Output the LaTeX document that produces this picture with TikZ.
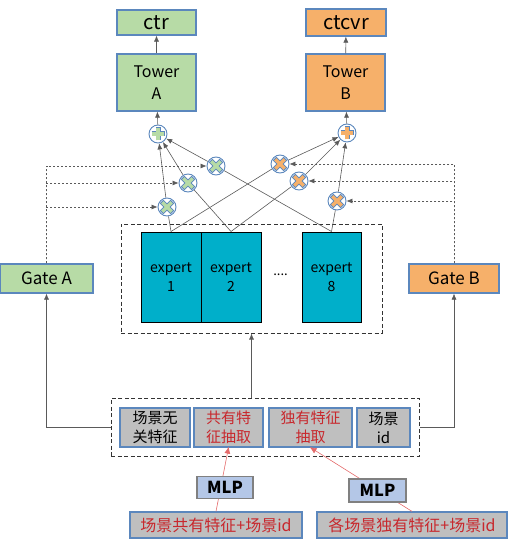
\documentclass[tikz,border=0pt]{standalone}
\usepackage{fontspec}
\setmainfont{Noto Sans CJK SC}
\usetikzlibrary{arrows.meta}

\definecolor{bordblue}{HTML}{5B87BD}
\definecolor{greenA}{HTML}{B7DBA6}
\definecolor{orangeB}{HTML}{F6B06A}
\definecolor{expcol}{HTML}{00AFCA}
\definecolor{featgray}{HTML}{BFBFBF}
\definecolor{mlpblue}{HTML}{B4C7E7}
\definecolor{featred}{HTML}{C8282D}
\definecolor{linered}{HTML}{E46A6A}
\definecolor{linegray}{HTML}{5A5A5A}

\tikzset{
  box/.style={draw=bordblue, line width=1.2pt, inner sep=0pt, align=center},
  expbox/.style={draw=black, line width=1pt, fill=expcol, inner sep=0pt, align=center,
    minimum width=60pt, minimum height=90pt, font=\fontsize{14}{19}\selectfont},
  feat/.style={box, fill=featgray, minimum height=39pt, font=\fontsize{15}{19}\selectfont},
  mlpbox/.style={draw=gray, line width=1.2pt, fill=mlpblue, inner sep=0pt,
    minimum width=56pt, minimum height=22pt, font=\fontsize{16.5}{18}\selectfont\bfseries},
  dbox/.style={draw=black!80, line width=1pt, dash pattern=on 4pt off 2.5pt, inner sep=0pt},
  conn/.style={draw=linegray, line width=0.6pt},
  dotline/.style={draw=linegray, line width=0.6pt, dash pattern=on 2pt off 2pt},
  tip/.style={-{Latex[length=6pt,width=5pt]}},
  mul/.style={circle, draw=bordblue, line width=0.9pt, fill=white, minimum size=18pt, inner sep=0pt,
    path picture={
      \draw[bordblue, line width=5pt]
        ([shift={(-5.4pt,-5.4pt)}]path picture bounding box.center) -- ([shift={(5.4pt,5.4pt)}]path picture bounding box.center)
        ([shift={(-5.4pt,5.4pt)}]path picture bounding box.center) -- ([shift={(5.4pt,-5.4pt)}]path picture bounding box.center);
      \draw[#1, line width=3.2pt]
        ([shift={(-4.7pt,-4.7pt)}]path picture bounding box.center) -- ([shift={(4.7pt,4.7pt)}]path picture bounding box.center)
        ([shift={(-4.7pt,4.7pt)}]path picture bounding box.center) -- ([shift={(4.7pt,-4.7pt)}]path picture bounding box.center);
    }},
  add/.style={circle, draw=bordblue, line width=0.9pt, fill=white, minimum size=18pt, inner sep=0pt,
    path picture={
      \draw[bordblue, line width=5pt]
        ([shift={(-6.5pt,0pt)}]path picture bounding box.center) -- ([shift={(6.5pt,0pt)}]path picture bounding box.center)
        ([shift={(0pt,-6.5pt)}]path picture bounding box.center) -- ([shift={(0pt,6.5pt)}]path picture bounding box.center);
      \draw[#1, line width=3.2pt]
        ([shift={(-5.7pt,0pt)}]path picture bounding box.center) -- ([shift={(5.7pt,0pt)}]path picture bounding box.center)
        ([shift={(0pt,-5.7pt)}]path picture bounding box.center) -- ([shift={(0pt,5.7pt)}]path picture bounding box.center);
    }},
}

\begin{document}
\begin{tikzpicture}[x=1pt, y=-1pt]
    \useasboundingbox (0,0) rectangle (508,545);

    % outputs and towers
    \node[box, fill=greenA, minimum width=79pt, minimum height=25pt, font=\fontsize{20}{20}\selectfont] (ctr) at (156.5,22.5) {ctr};
    \node[box, fill=orangeB, minimum width=80pt, minimum height=27pt, font=\fontsize{20}{20}\selectfont] (ctcvr) at (346,22.5) {ctcvr};
    \node[box, fill=greenA, minimum width=79pt, minimum height=57pt, font=\fontsize{16}{22}\selectfont] (towerA) at (156.5,82.5) {Tower\\A};
    \node[box, fill=orangeB, minimum width=79pt, minimum height=57pt, font=\fontsize{16}{22}\selectfont] (towerB) at (345.5,82.5) {Tower\\B};
        \draw[conn, tip] (towerA) -- (ctr);
        \draw[conn, tip] (towerB) -- (ctcvr);

    % sum and product nodes
    \node[add=greenA] (plusA) at (158,134) {};
    \node[add=orangeB] (plusB) at (347,133) {};
    \node[mul=greenA] (gA1) at (167,207) {};
    \node[mul=greenA] (gA2) at (188,183) {};
    \node[mul=greenA] (gA3) at (216,166) {};
    \node[mul=orangeB] (oB1) at (280,164) {};
    \node[mul=orangeB] (oB2) at (299,181) {};
    \node[mul=orangeB] (oB3) at (337,201) {};
        \draw[conn, tip] (plusA) -- (towerA);
        \draw[conn, tip] (plusB) -- (towerB);

    % experts
    \node[dbox, minimum width=261pt, minimum height=109pt] (expall) at (251.5,278.5) {};
    \node[expbox] (e1) at (171,277) {expert\\1};
    \node[expbox] (e2) at (231,277) {expert\\2};
    \node[expbox, minimum width=59pt] (e8) at (331.5,277) {expert\\8};
    \node[font=\fontsize{13}{13}\selectfont] (dots) at (280.5,275) {....};

    \draw[conn] (e1.north) -- (gA1);
    \draw[conn] (e1.north) -- (oB1);
    \draw[conn] (e2.north) -- (gA2);
    \draw[conn] (e2.north) -- (oB2);
    \draw[conn] (e8.north) -- (gA3);
    \draw[conn] (e8.north) -- (oB3);
        \draw[conn, tip] (gA1) -- (plusA);
        \draw[conn, tip] (gA2) -- (plusA);
        \draw[conn, tip] (gA3) -- (plusA);
        \draw[conn, tip] (oB1) -- (plusB);
        \draw[conn, tip] (oB2) -- (plusB);
        \draw[conn, tip] (oB3) -- (plusB);

    % gates
    \node[box, fill=greenA, minimum width=93pt, minimum height=29pt, font=\fontsize{17}{17}\selectfont] (gateA) at (46.5,278.5) {Gate A};
    \node[box, fill=orangeB, minimum width=90pt, minimum height=29pt, font=\fontsize{17}{17}\selectfont] (gateB) at (454,278.5) {Gate B};
    \foreach \g in {gA1, gA2, gA3}
        \draw[dotline, tip] (gateA.north) |- (\g);
    \foreach \g in {oB1, oB2, oB3}
        \draw[dotline, tip] (gateB.north) |- (\g);

    % input features
    \node[dbox, minimum width=308pt, minimum height=58pt] (inall) at (265,427) {};
    \node[feat, minimum width=70pt] (f1) at (155,427.5) {场景无\\关特征};
    \node[feat, minimum width=69pt, text=featred] (f2) at (228.5,427.5) {共有特\\征抽取};
    \node[feat, minimum width=83pt, text=featred] (f3) at (310.5,427.5) {独有特征\\抽取};
    \node[feat, minimum width=53pt] (f4) at (383.5,427.5) {场景\\id};
        \draw[conn, tip] (inall.west) -| (gateA.south);
        \draw[conn, tip] (inall.east) -| (gateB.south);
        \draw[conn, tip] (expall.south |- inall.north) -- (expall.south);

    % scene inputs
    \node[feat, minimum width=172pt, minimum height=26pt, text=featred, font=\fontsize{16}{19}\selectfont] (b1) at (216,525) {场景共有特征+场景id};
    \node[feat, minimum width=190pt, minimum height=26pt, text=featred, font=\fontsize{16}{19}\selectfont] (b2) at (412,525) {各场景独有特征+场景id};
        \draw[linered, line width=0.6pt, -{Latex[length=7pt,width=6pt]}, shorten >=-1pt] (b1.north) -- (f2.south);
        \draw[linered, line width=0.6pt, -{Latex[length=7pt,width=6pt]}, shorten >=-1pt] (b2.north) -- (f3.south);
    \node[mlpbox] (mlp1) at (225,487.5) {MLP};
    \node[mlpbox, minimum width=57pt, minimum height=23pt] (mlp2) at (377.5,490.5) {MLP};
\end{tikzpicture}
\end{document}
